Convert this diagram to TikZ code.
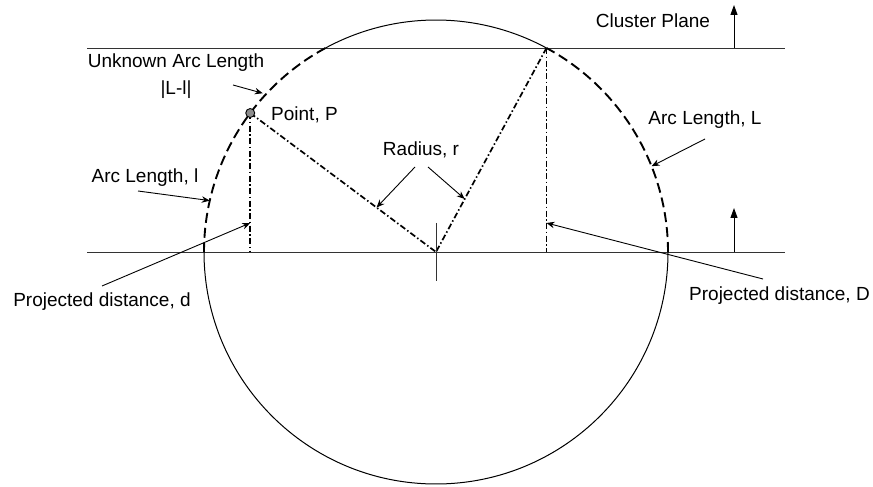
\documentclass[tikz,border=0pt]{standalone}
\usepackage{fontspec}
\setmainfont{Liberation Sans}
\usetikzlibrary{arrows.meta,calc}
\begin{document}
\begin{tikzpicture}[x=1pt,y=1pt,
  lbl/.style={inner sep=0pt,font=\fontsize{19}{27}\selectfont},
  thinline/.style={line width=0.9pt,black!80},
  dasharc/.style={line width=1.9pt,dash pattern=on 10pt off 5pt},
  dashdot/.style={line width=1.7pt,dash pattern=on 6pt off 2.5pt on 1.5pt off 2.5pt},
  pointer/.style={line width=0.9pt,-{Stealth[length=8pt,width=6.5pt]}},
  uparrow/.style={line width=1pt,-{Triangle[length=10pt,width=7pt]}}]
\useasboundingbox (0,0) rectangle (873,487);
\coordinate (O) at (436,235);
\def\R{232}
% planes
\coordinate (TL) at (87,439); \coordinate (TR) at (785,439);
\coordinate (BL) at (87,235); \coordinate (BR) at (785,235);
\draw[thinline] (TL) -- (TR);
\draw[thinline] (BL) -- (BR);
% circle parts
\draw[line width=1pt] ($(O)+(61.56:\R)$) arc[start angle=61.56,end angle=118.44,radius=\R];
\draw[line width=1pt] ($(O)+(180:\R)$) arc[start angle=180,end angle=360,radius=\R];
\draw[dasharc] ($(O)+(118.44:\R)$) arc[start angle=118.44,end angle=180,radius=\R];
\draw[dasharc] ($(O)+(0:\R)$) arc[start angle=0,end angle=61.56,radius=\R];
% key points
\coordinate (P) at ($(O)+(143.2:\R)$);
\coordinate (Q) at ($(O)+(61.56:\R)$);
\coordinate (Pb) at (P |- O);
\coordinate (Qb) at (Q |- O);
% radii and projections
\draw[dashdot] (P) -- (O);
\draw[dashdot] (Q) -- (O);
\draw[dashdot] (P) -- (Pb);
\draw[dashdot] (Q) -- (Qb);
% centre tick
\coordinate (Ct) at (436,264); \coordinate (Cb) at (436,206);
\draw[thinline] (Ct) -- (Cb);
% point P
\node[circle,draw,fill=black!45,inner sep=0pt,minimum size=9pt,line width=0.9pt] (Pdot) at (P) {};
% up arrows
\coordinate (A1s) at (734,439); \coordinate (A1e) at (734,482);
\coordinate (A2s) at (734,235); \coordinate (A2e) at (734,279);
\draw[uparrow] (A1s) -- (A1e);
\draw[uparrow] (A2s) -- (A2e);
% labels
\node[lbl] (cp) at (653,466) {Cluster Plane};
\node[lbl,align=center] (ual) at (176,410.5) {Unknown Arc Length\\|L-l|};
\node[lbl,anchor=west] (pp) at (271,372) {Point, P};
\node[lbl] (rad) at (421,337) {Radius, r};
\node[lbl] (alL) at (705,367) {Arc Length, L};
\node[lbl] (all) at (145,309) {Arc Length, l};
\node[lbl] (pdd) at (102,185) {Projected distance, d};
\node[lbl] (pdD) at (779.5,191) {Projected distance, D};
% pointers
\coordinate (u1) at (233,402); \coordinate (u2) at ($(O)+(137.5:235)$);
\draw[pointer] (u1) -- (u2);
\coordinate (r1) at (415,320); \coordinate (r2) at ($(O)!0.32!(P)$);
\draw[pointer] (r1) -- (r2);
\coordinate (r3) at (428,320); \coordinate (r4) at ($(O)!0.26!(Q)$);
\draw[pointer] (r3) -- (r4);
\coordinate (L1) at (705,348); \coordinate (L2) at ($(O)+(21.7:\R)$);
\draw[pointer] (L1) -- (L2);
\coordinate (l1) at (138,296); \coordinate (l2) at ($(O)+(167.2:\R)$);
\draw[pointer] (l1) -- (l2);
\coordinate (d1) at (102,201); \coordinate (d2) at ($(Pb)+(0,29)$);
\draw[pointer] (d1) -- (d2);
\coordinate (D1) at (763,208); \coordinate (D2) at ($(Qb)+(0,29)$);
\draw[pointer] (D1) -- (D2);
\end{tikzpicture}
\end{document}
